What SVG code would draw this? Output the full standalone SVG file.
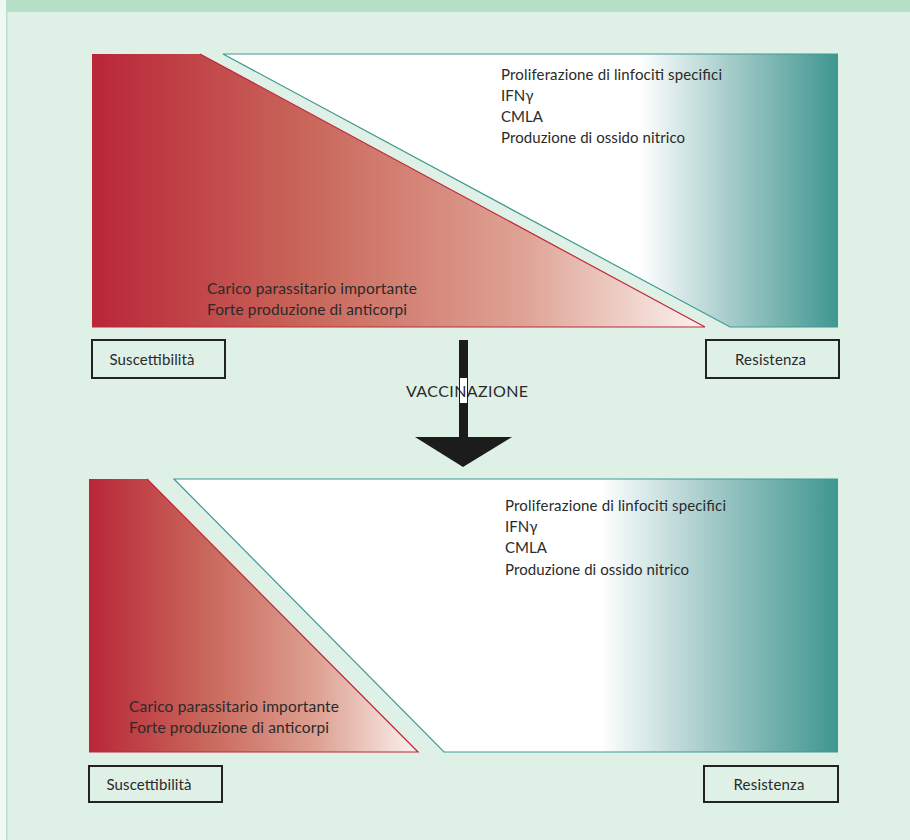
<svg xmlns="http://www.w3.org/2000/svg" width="910" height="840" viewBox="0 0 910 840">
<defs>
<style>
.t{font-family:Lato,"Open Sans","Liberation Sans",sans-serif;font-size:15px;fill:#2a2a2a}
.c{font-family:Lato,"Open Sans","Liberation Sans",sans-serif;font-size:15.5px;fill:#2a2a2a}
.v{font-family:Lato,"Open Sans","Liberation Sans",sans-serif;font-size:16px;fill:#2a2a2a}
.s{font-family:Lato,"Open Sans","Liberation Sans",sans-serif;font-size:15px;fill:#2a2a2a}
.box{fill:none;stroke:#222;stroke-width:2}
</style>
<linearGradient id="red1" gradientUnits="userSpaceOnUse" x1="92" y1="0" x2="705" y2="0">
<stop offset="0" stop-color="#b92638"/>
<stop offset="0.35" stop-color="#c9665a"/>
<stop offset="0.7" stop-color="#dea294"/>
<stop offset="1" stop-color="#fbf2ef"/>
</linearGradient>
<linearGradient id="teal1" gradientUnits="userSpaceOnUse" x1="640" y1="0" x2="838" y2="0">
<stop offset="0" stop-color="#ffffff"/>
<stop offset="0.45" stop-color="#a6ccca"/>
<stop offset="1" stop-color="#3f9690"/>
</linearGradient>
<linearGradient id="red2" gradientUnits="userSpaceOnUse" x1="89" y1="0" x2="418" y2="0">
<stop offset="0" stop-color="#b92638"/>
<stop offset="0.35" stop-color="#c9665a"/>
<stop offset="0.7" stop-color="#dea294"/>
<stop offset="1" stop-color="#fbf2ef"/>
</linearGradient>
<linearGradient id="teal2" gradientUnits="userSpaceOnUse" x1="600" y1="0" x2="838" y2="0">
<stop offset="0" stop-color="#ffffff"/>
<stop offset="0.45" stop-color="#a6ccca"/>
<stop offset="1" stop-color="#3f9690"/>
</linearGradient>
</defs>
<rect x="0" y="0" width="910" height="840" fill="#f0f8f3"/>
<rect x="7" y="0" width="903" height="840" fill="#dff0e6"/>
<rect x="6" y="0" width="1.5" height="840" fill="#b7dfc9"/>
<rect x="7" y="0" width="903" height="12" fill="#b6dfc8"/>

<g id="top-susceptibility">
<polygon points="92,54 200,54 705,327 92,327" fill="url(#red1)"/>
<polyline points="200,54 705,327 92,327" fill="none" stroke="#c0283a" stroke-width="1.2"/>
<text class="c" x="207" y="294" textLength="210">Carico parassitario importante</text>
<text class="c" x="207" y="315" textLength="200">Forte produzione di anticorpi</text>
</g>
<g id="top-resistance">
<polygon points="223,54 838,54 838,327 730,327" fill="url(#teal1)"/>
<polyline points="838,54 223,54 730,327 838,327" fill="none" stroke="#3f9a92" stroke-width="1.2"/>
<text class="t" x="501" y="80" textLength="221">Proliferazione di linfociti specifici</text>
<text class="t" x="501" y="101">IFNγ</text>
<text class="t" x="501" y="122">CMLA</text>
<text class="t" x="501" y="143" textLength="184">Produzione di ossido nitrico</text>
</g>
<g id="top-susc-label">
<rect class="box" x="92" y="340" width="133" height="38"/>
<text class="s" x="152" y="365" text-anchor="middle" textLength="85">Suscettibilità</text>
</g>
<g id="top-res-label">
<rect class="box" x="706" y="340" width="133" height="38"/>
<text class="s" x="770.5" y="365" text-anchor="middle" textLength="71">Resistenza</text>
</g>

<g id="connectors">
<rect x="459" y="340" width="9" height="98" fill="#1c1c1c"/>
<polygon points="415,437 512,437 463,467" fill="#1c1c1c"/>
<rect x="460" y="378" width="7" height="25" fill="#ffffff"/>
</g>
<g id="vaccinazione">
<text class="v" x="467" y="397" text-anchor="middle" textLength="122">VACCINAZIONE</text>
</g>

<g id="bottom-susceptibility">
<polygon points="89,479 147,479 418,752 89,752" fill="url(#red2)"/>
<polyline points="147,479 418,752 89,752" fill="none" stroke="#c0283a" stroke-width="1.2"/>
<text class="c" x="129" y="712" textLength="210">Carico parassitario importante</text>
<text class="c" x="129" y="733" textLength="200">Forte produzione di anticorpi</text>
</g>
<g id="bottom-resistance">
<polygon points="174,479 838,479 838,752 444,752" fill="url(#teal2)"/>
<polyline points="838,479 174,479 444,752 838,752" fill="none" stroke="#3f9a92" stroke-width="1.2"/>
<text class="t" x="505" y="511" textLength="221">Proliferazione di linfociti specifici</text>
<text class="t" x="505" y="532">IFNγ</text>
<text class="t" x="505" y="553">CMLA</text>
<text class="t" x="505" y="575" textLength="184">Produzione di ossido nitrico</text>
</g>
<g id="bottom-susc-label">
<rect class="box" x="89" y="766" width="133" height="36"/>
<text class="s" x="149" y="790" text-anchor="middle" textLength="85">Suscettibilità</text>
</g>
<g id="bottom-res-label">
<rect class="box" x="704" y="766" width="134" height="36"/>
<text class="s" x="769" y="790" text-anchor="middle" textLength="71">Resistenza</text>
</g>
</svg>
